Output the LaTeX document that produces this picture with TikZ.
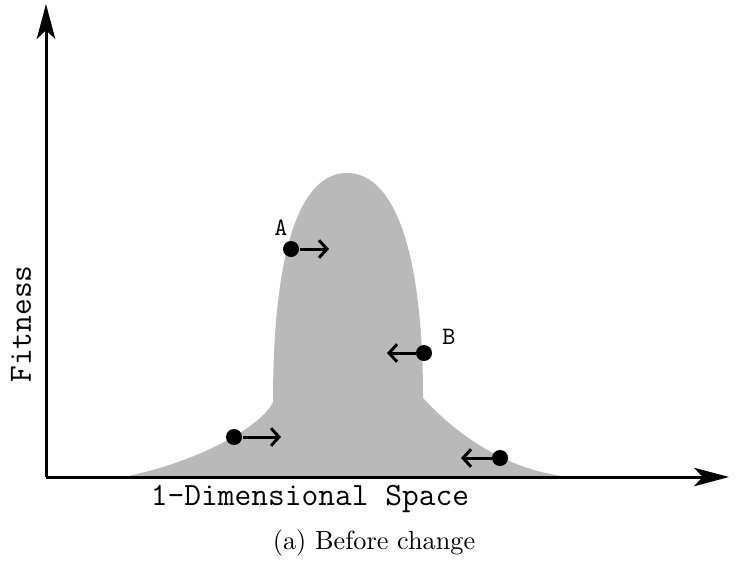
\documentclass[tikz,border=0pt]{standalone}
\usepackage{xcolor}
\usetikzlibrary{arrows.meta, positioning, calc}
\definecolor{peakgray}{gray}{0.725}
\tikzset{
  agent/.style={circle, fill=black, inner sep=0pt, minimum size=6.4pt},
  move/.style={line width=1.2pt, -{Straight Barb[length=3.2pt,width=7pt]}},
  axisline/.style={line width=1.2pt, -{Stealth[length=14pt,width=7.4pt,inset=3.5pt]}},
  monolabel/.style={font=\ttfamily\fontsize{13}{15}\selectfont},
  pointlabel/.style={font=\ttfamily\fontsize{10}{12}\selectfont},
}
\begin{document}
\begin{tikzpicture}[x=0.4pt,y=-0.4pt]
  \useasboundingbox (0,0) rectangle (737,573);

  % Axis end points
  \coordinate (O) at (46,477);
  \coordinate (Y) at (46,4);
  \coordinate (X) at (729,477);

  % Fitness peak
  \fill[peakgray] (123,477) .. controls (200,462) and (263,425) .. (273,402)
    .. controls (273,250) and (300,173) .. (347,173)
    .. controls (394,173) and (423,250) .. (423,398)
    .. controls (460,438) and (510,471) .. (570,477) -- cycle;

  % Axes
  \draw[axisline] (O) -- (Y);
  \draw[axisline] (O) -- (X);

  % Axis labels
  \node[monolabel] (xlab) at (310,499) {1-Dimensional Space};
  \node[monolabel, rotate=90] (ylab) at (21,324) {Fitness};

  % Individuals and their moves
  \node[agent] (a) at (291,249) {};
  \coordinate (ato) at (329,249);
  \draw[move] (a) -- (ato);
  \node[pointlabel] (alab) at (281,228) {A};

  \node[agent] (b) at (424,353) {};
  \coordinate (bto) at (387,353);
  \draw[move] (b) -- (bto);
  \node[pointlabel] (blab) at (449,337) {B};

  \node[agent] (c) at (234,437) {};
  \coordinate (cto) at (281,437);
  \draw[move] (c) -- (cto);

  \node[agent] (d) at (500,458) {};
  \coordinate (dto) at (461,458);
  \draw[move] (d) -- (dto);

  % Caption
  \node[font=\fontsize{10.5}{12}\selectfont] (cap) at (374,543) {(a) Before change};
\end{tikzpicture}
\end{document}
